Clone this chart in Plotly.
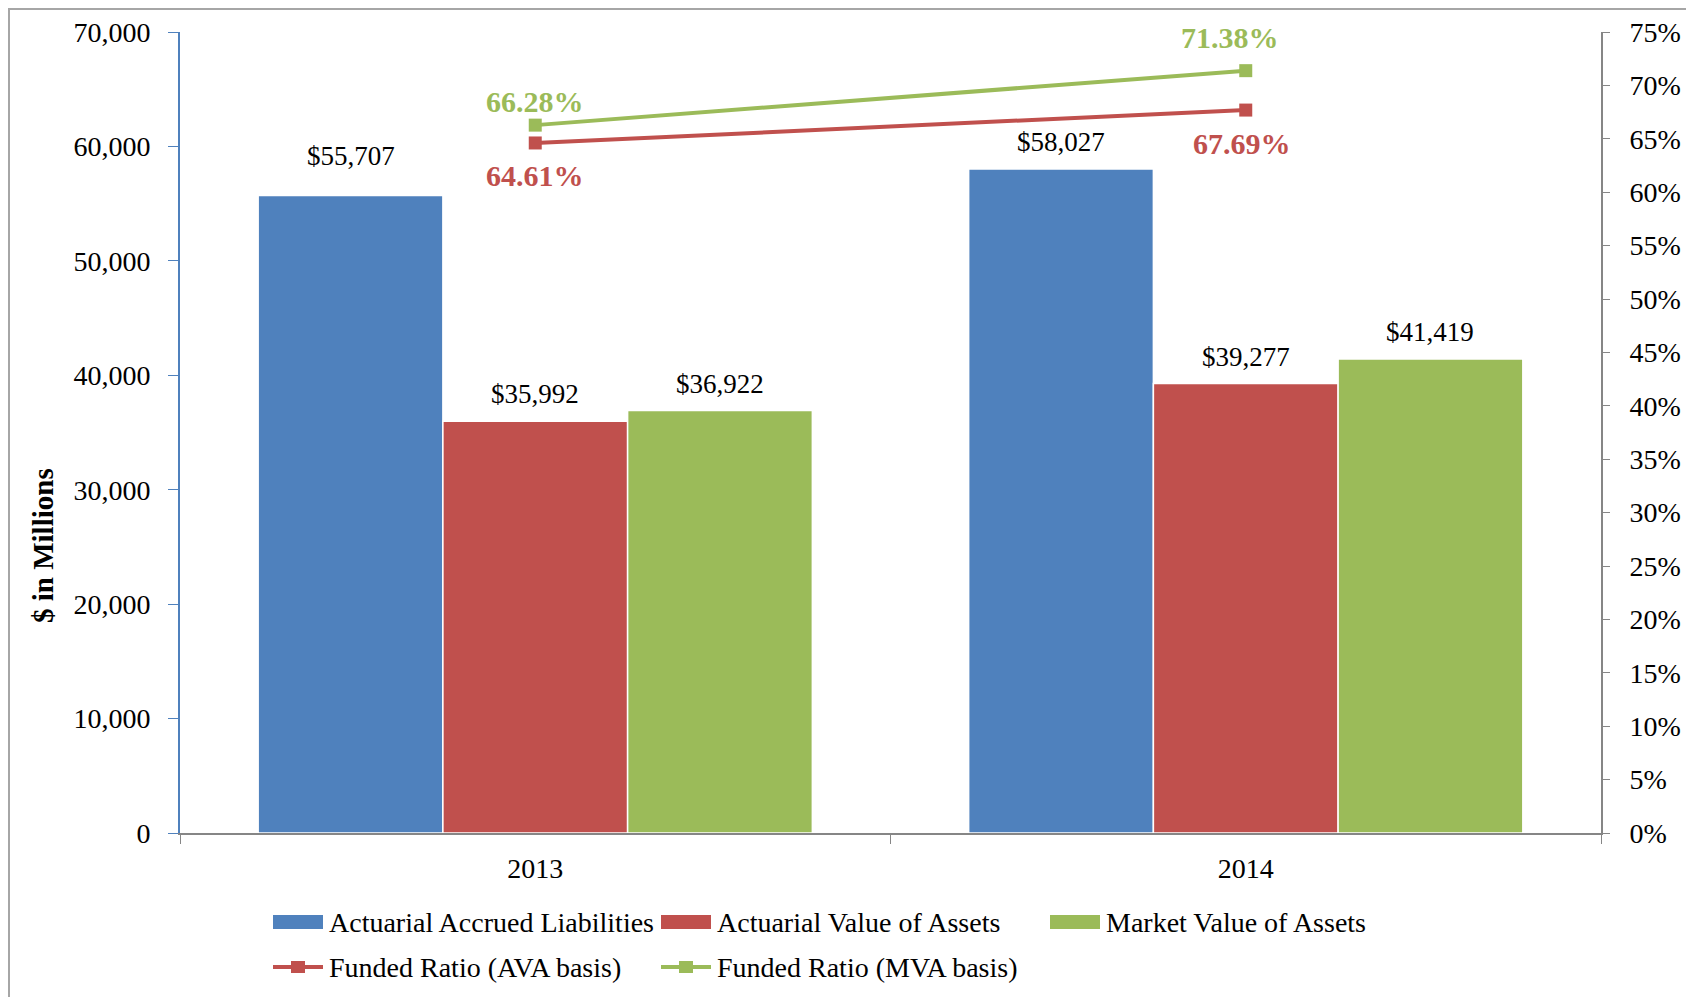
import plotly.graph_objects as go

years = ["2013", "2014"]
bar_names = ["Actuarial Accrued Liabilities", "Actuarial Value of Assets", "Market Value of Assets"]
liabilities = [55707, 58027]
ava = [35992, 39277]
mva = [36922, 41419]
line_names = ["Funded Ratio (AVA basis)", "Funded Ratio (MVA basis)"]
ratio_ava = [0.6461, 0.6769]
ratio_mva = [0.6628, 0.7138]

BLUE, RED, GREEN = "#4F81BD", "#C0504D", "#9BBB59"
FONT = "Liberation Serif"
FS = 27

# page body adds an 8px offset, so work in page pixels and convert
OFF = 8
W, H = 1694, 997
L, R, T, B = 180 - OFF, 101, 32 - OFF, 172
pw, ph = W - L - R, H - T - B

def px(x):
    return (x - OFF - L) / pw

def py(y):
    return (H - B - (y - OFF)) / ph

fig = go.Figure()
bar_series = [liabilities, ava, mva]
bar_colors = [BLUE, RED, GREEN]
for name, vals, col in zip(bar_names, bar_series, bar_colors):
    fig.add_trace(go.Bar(x=years, y=vals, name=name, marker_color=col,
                         marker_line=dict(color="white", width=1.5),
                         showlegend=False))

line_series = [ratio_ava, ratio_mva]
line_colors = [RED, GREEN]
# label nudges (x, y in px) per series / point, like Excel's hand-placed labels
label_nudge = [[(0, -33), (-4, -33)], [(0, 24), (-16, 33)]]
for s, (name, vals, col) in enumerate(zip(line_names, line_series, line_colors)):
    fig.add_trace(go.Scatter(x=years, y=vals, name=name, yaxis="y2",
                             mode="lines+markers",
                             line=dict(color=col, width=4),
                             marker=dict(symbol="square", size=13, color=col),
                             cliponaxis=False, showlegend=False))
    for i, v in enumerate(vals):
        dx, dy = label_nudge[s][i]
        fig.add_annotation(x=i, y=v, xref="x", yref="y2",
                           text=f"<b>{v*100:.2f}%</b>", showarrow=False,
                           yanchor="middle", xshift=dx, yshift=dy,
                           font=dict(family=FONT, size=30, color=col))

# bar value labels
bargap = 0.22
bw = (1 - bargap) / 3
for j, vals in enumerate(bar_series):
    for i, v in enumerate(vals):
        shift = 40 if (i == 0 and j == 0) else 27
        fig.add_annotation(x=i + (j - 1) * bw, y=v, xref="x", yref="y",
                           text=f"${v:,}", showarrow=False, yanchor="middle",
                           yshift=shift, font=dict(family=FONT, size=FS, color="black"))

# y axis title placed where Excel put it (below the middle)
fig.add_annotation(x=px(43), y=py(546), xref="paper", yref="paper",
                   text="<b>$ in Millions</b>", textangle=-90, showarrow=False,
                   xanchor="center", yanchor="middle",
                   font=dict(family=FONT, size=29, color="black"))

# legend drawn by hand (wide Excel-style swatches)
col_x = [273, 661, 1050]
row_y = [922, 967]
items = [(bar_names[k], bar_colors[k], "bar") for k in range(3)] + \
        [(line_names[0], RED, "line"), (line_names[1], GREEN, "line")]
for k, (name, col, kind) in enumerate(items):
    cx = col_x[k % 3]
    cy = row_y[k // 3]
    if kind == "bar":
        fig.add_shape(type="rect", xref="paper", yref="paper",
                      x0=px(cx), x1=px(cx + 50), y0=py(cy + 7), y1=py(cy - 7),
                      fillcolor=col, line_width=0)
    else:
        fig.add_shape(type="line", xref="paper", yref="paper",
                      x0=px(cx), x1=px(cx + 50), y0=py(cy), y1=py(cy),
                      line=dict(color=col, width=4))
        fig.add_shape(type="rect", xref="paper", yref="paper",
                      x0=px(cx + 18), x1=px(cx + 32), y0=py(cy + 6), y1=py(cy - 6),
                      fillcolor=col, line_width=0)
    fig.add_annotation(x=px(cx + 54), y=py(cy), xref="paper", yref="paper",
                       text=name, showarrow=False, xanchor="left", yanchor="middle",
                       font=dict(family=FONT, size=28, color="black"))

# outer frame
fig.add_shape(type="rect", xref="paper", yref="paper",
              x0=px(9), x1=px(1692), y0=py(1010), y1=py(9),
              line=dict(color="#A6A6A6", width=2), layer="below")

fig.update_layout(
    width=W, height=H,
    margin=dict(l=L, r=R, t=T, b=B, autoexpand=False),
    paper_bgcolor="white", plot_bgcolor="white",
    barmode="group", bargap=bargap, bargroupgap=0,
    font=dict(family=FONT, size=FS, color="black"),
    showlegend=False,
    xaxis=dict(type="category", range=[-0.5, 1.5], tickangle=0,
               showline=True, linecolor="#868686", linewidth=2,
               ticks="outside", tickson="boundaries", ticklen=9, tickcolor="#868686",
               ticklabelstandoff=9, showgrid=False, tickfont=dict(size=28)),
    yaxis=dict(range=[0, 70000], dtick=10000, tickformat=",", showgrid=False,
               showline=True, linecolor=BLUE, linewidth=2, ticks="outside",
               ticklen=10, tickcolor=BLUE, ticklabelstandoff=12, zeroline=False,
               tickfont=dict(size=28)),
    yaxis2=dict(range=[0, 0.75], dtick=0.05, tickformat=".0%", overlaying="y",
                side="right", showgrid=False, showline=True, linecolor="#868686",
                linewidth=2, ticks="outside", ticklen=7, tickcolor="#868686",
                ticklabelstandoff=14, zeroline=False, tickfont=dict(size=28)),
)

fig.write_html("out.html")
